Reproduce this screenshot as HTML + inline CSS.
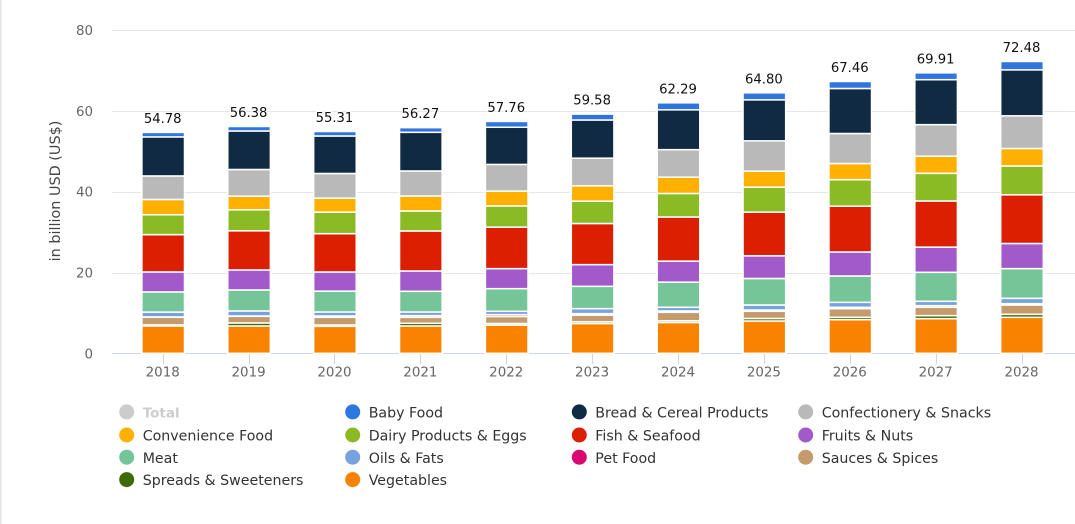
<!DOCTYPE html>
<html lang="en">
<head>
<meta charset="utf-8">
<title>Food revenue by segment</title>
<style>
html,body{margin:0;padding:0;background:#fff;width:1075px;height:524px;overflow:hidden}
svg{display:block;font-family:"DejaVu Sans","Liberation Sans",sans-serif}
</style>
</head>
<body>
<svg id="chart" xmlns="http://www.w3.org/2000/svg" width="1075" height="524" viewBox="0 0 1075 524"></svg>
<script>
const categories = ['2018','2019','2020','2021','2022','2023','2024','2025','2026','2027','2028'];
const yTicks = [0,20,40,60,80];
const totals = [54.78,56.38,55.31,56.27,57.76,59.58,62.29,64.80,67.46,69.91,72.48];
const vegetables = [6.77,6.77,6.68,6.77,6.97,7.38,7.63,8.00,8.33,8.58,8.91];
const spreads = [0.25,0.74,0.33,0.66,0.41,0.42,0.41,0.62,0.58,0.74,0.74];
const sauces = [1.90,1.65,1.90,1.48,1.74,1.65,2.11,1.78,2.15,2.07,2.31];
const petFood = [0.08,0.08,0.33,0.41,0.45,0.37,0.33,0.32,0.33,0.41,0.33];
const oils = [1.20,1.24,0.99,0.91,0.83,1.24,0.91,1.24,1.23,1.07,1.32];
const meat = [4.99,5.20,5.16,5.12,5.60,5.52,6.22,6.56,6.52,7.18,7.35];
const fruits = [4.95,4.95,4.74,5.03,4.96,5.37,5.20,5.61,5.94,6.23,6.22];
const fish = [9.24,9.69,9.49,9.90,10.27,10.18,10.93,10.81,11.34,11.42,12.05];
const dairy = [4.91,5.20,5.32,4.95,5.25,5.53,5.82,6.19,6.56,6.85,7.14];
const convenience = [3.79,3.38,3.46,3.71,3.67,3.80,4.04,3.96,4.00,4.25,4.33];
const confectionery = [5.82,6.60,6.11,6.19,6.60,6.84,6.81,7.50,7.43,7.80,8.08];
const bread = [9.66,9.53,9.28,9.57,9.20,9.45,9.86,10.15,11.14,11.13,11.38];
const babyFood = [1.11,1.11,1.11,1.15,1.44,1.45,1.73,1.73,1.73,1.69,2.07];
const seriesNames = ['Vegetables','Spreads & Sweeteners','Sauces & Spices','Pet Food','Oils & Fats','Meat','Fruits & Nuts','Fish & Seafood','Dairy Products & Eggs','Convenience Food','Confectionery & Snacks','Bread & Cereal Products','Baby Food'];
const seriesValues = [vegetables,spreads,sauces,petFood,oils,meat,fruits,fish,dairy,convenience,confectionery,bread,babyFood];
const seriesColors = ['#f98300','#3e6a0b','#c69b6c','#d80a72','#76a3e0','#76c598','#a25acb','#db1f00','#8abb25','#ffb000','#b9b9b9','#0f2a42','#2f75dd'];
const legendNames = ['Total','Baby Food','Bread & Cereal Products','Confectionery & Snacks','Convenience Food','Dairy Products & Eggs','Fish & Seafood','Fruits & Nuts','Meat','Oils & Fats','Pet Food','Sauces & Spices','Spreads & Sweeteners','Vegetables'];
const legendColors = ['#cccccc','#2d77e0','#0f2a42','#b9b9b9','#ffb000','#8abb25','#db1f00','#a25acb','#76c598','#76a3e0','#d80a72','#c69b6c','#3e6a0b','#f98300'];

const svg = document.getElementById('chart');
const NS = 'http://www.w3.org/2000/svg';
function make(tag, attrs, text) {
  const el = document.createElementNS(NS, tag);
  for (const k in attrs) el.setAttribute(k, attrs[k]);
  if (text !== undefined) el.textContent = text;
  svg.appendChild(el);
  return el;
}
function yScale(v) { return 353.3 - v * 4.04; }
function xScale(i) { return 163.2 + i * 85.88; }
const barWidth = 42.6;
function slug(s) { return s.toLowerCase().replace(/[^a-z0-9]+/g, '-').replace(/-$/, ''); }

const edge = make('rect', {x:0, y:0, width:1.5, height:524, fill:'#e4e4e4'});



yTicks.forEach(function (t) {
  const y = Math.round(yScale(t)) + 0.5;
  if (t !== 0) {
    const g = make('line', {x1:112, x2:1075, y1:y, y2:y, stroke:'#e6e6e6', 'stroke-width':1});
    
    
  }
  const l = make('text', {x:93, y:yScale(t) + 5, 'text-anchor':'end', 'font-size':13.4, fill:'#666666'}, String(t));
  
  
});

const axisLine = make('line', {x1:112, x2:1075, y1:353.5, y2:353.5, stroke:'#ccd6eb', 'stroke-width':1});



const yTitle = make('text', {x:0, y:0, transform:'translate(60,191) rotate(-90)', 'text-anchor':'middle', 'font-size':14.4, fill:'#444444'}, 'in billion USD (US$)');



categories.forEach(function (c, i) {
  const x = Math.round(xScale(i) - 0.5) + 0.5;
  const tick = make('line', {x1:x, x2:x, y1:353.5, y2:364, stroke:'#ccd6eb', 'stroke-width':1});
  
  
  const label = make('text', {x:xScale(i) - 0.5, y:376.5, 'text-anchor':'middle', 'font-size':13.4, fill:'#666666'}, c);
  
  
});

categories.forEach(function (c, i) {
  let running = 0;
  seriesValues.forEach(function (vals, s) {
    const y1 = yScale(running);
    running += vals[i];
    const y2 = yScale(running);
    const seg = make('rect', {x:xScale(i) - barWidth / 2, y:y2, width:barWidth, height:y1 - y2, fill:seriesColors[s], stroke:'#ffffff', 'stroke-width':1.5});
    
    
  });
  const total = make('text', {x:xScale(i) - 0.5, y:yScale(running) - 9.5, 'text-anchor':'middle', 'font-size':13.2, fill:'#111111', stroke:'#ffffff', 'stroke-width':2, 'paint-order':'stroke'}, totals[i].toFixed(2));
  
  
});

const legendCols = [126.7, 352.7, 579.3, 805.7];
const legendRows = [411.9, 435, 457.2, 479.6];
legendNames.forEach(function (name, i) {
  const col = i % 4;
  const row = Math.floor(i / 4);
  const dot = make('circle', {cx:legendCols[col], cy:legendRows[row], r:7.5, fill:legendColors[i]});
  
  
  const isTotal = i === 0;
  const txt = make('text', {x:legendCols[col] + 16, y:legendRows[row] + 5.6, 'font-size':isTotal ? 13.5 : 14.2, fill:isTotal ? '#cccccc' : '#333333', 'font-weight':isTotal ? 'bold' : 'normal'}, name);
  
  
});
</script>
</body>
</html>
